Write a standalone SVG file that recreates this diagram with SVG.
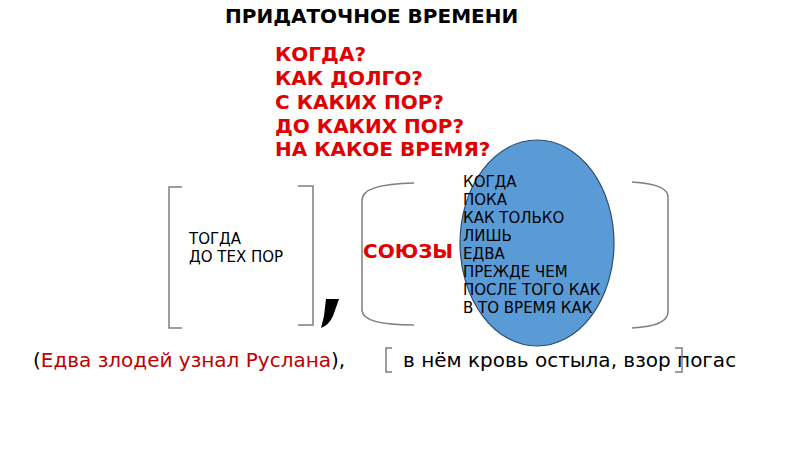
<svg xmlns="http://www.w3.org/2000/svg" width="800" height="450" viewBox="0 0 800 450">
<style>
.t{font-family:"DejaVu Sans",sans-serif;}
.title{font-weight:bold;font-size:20px;fill:#000;}
.q{font-weight:bold;font-size:20px;fill:#e00000;}
.s{font-size:15px;fill:#000;}
.b{font-size:20px;fill:#000;}
.br{fill:none;stroke:#7f7f7f;stroke-width:1.5;}
</style>
<rect width="800" height="450" fill="#fff"/>
<g id="title"><text class="t title" x="225" y="23">ПРИДАТОЧНОЕ ВРЕМЕНИ</text></g>
<g id="questions">
<text class="t q" x="275" y="61">КОГДА?</text>
<text class="t q" x="275" y="85">КАК ДОЛГО?</text>
<text class="t q" x="275" y="109">С КАКИХ ПОР?</text>
<text class="t q" x="275" y="133">ДО КАКИХ ПОР?</text>
<text class="t q" x="275" y="156">НА КАКОЕ ВРЕМЯ?</text>
</g>
<g id="main-bracket">
<path class="br" d="M182,187 H169 V328 H182"/>
<path class="br" d="M298,186 H313 V325 H298"/>
<text class="t s" x="189" y="244">ТОГДА</text>
<text class="t s" x="189" y="262">ДО ТЕХ ПОР</text>
</g>
<g id="comma"><path d="M326,299 L339,299 L333,316 Q329,325 321,328 L324,316 Z" fill="#000"/></g>
<g id="sub-bracket">
<path class="br" d="M414,183 Q362,184 362,200 V310 Q362,325 414,325"/>
<path class="br" d="M632,182 Q668,184 668,197 V312 Q668,326 632,328"/>
</g>
<g id="unions">
<text class="t" x="363" y="258" font-weight="bold" font-size="20" fill="#e00000">СОЮЗЫ</text>
<ellipse cx="537" cy="243" rx="77" ry="103" fill="#5b9bd5" stroke="#2f4d6e" stroke-width="1.2"/>
<text class="t s" x="463" y="187">КОГДА</text>
<text class="t s" x="463" y="205">ПОКА</text>
<text class="t s" x="463" y="223">КАК ТОЛЬКО</text>
<text class="t s" x="463" y="241">ЛИШЬ</text>
<text class="t s" x="463" y="259">ЕДВА</text>
<text class="t s" x="463" y="277">ПРЕЖДЕ ЧЕМ</text>
<text class="t s" x="463" y="295">ПОСЛЕ ТОГО КАК</text>
<text class="t s" x="463" y="313">В ТО ВРЕМЯ КАК</text>
</g>
<g id="example">
<text class="t b" x="33" y="367">(<tspan fill="#c00000">Едва злодей узнал Руслана</tspan>),</text>
<path class="br" d="M392,348 H386 V372 H392" stroke-width="1.2"/>
<text class="t b" x="403" y="367">в нём кровь остыла, взор погас</text>
<path class="br" d="M675,348 H682 V372 H675" stroke-width="1.2"/>
</g>
</svg>
